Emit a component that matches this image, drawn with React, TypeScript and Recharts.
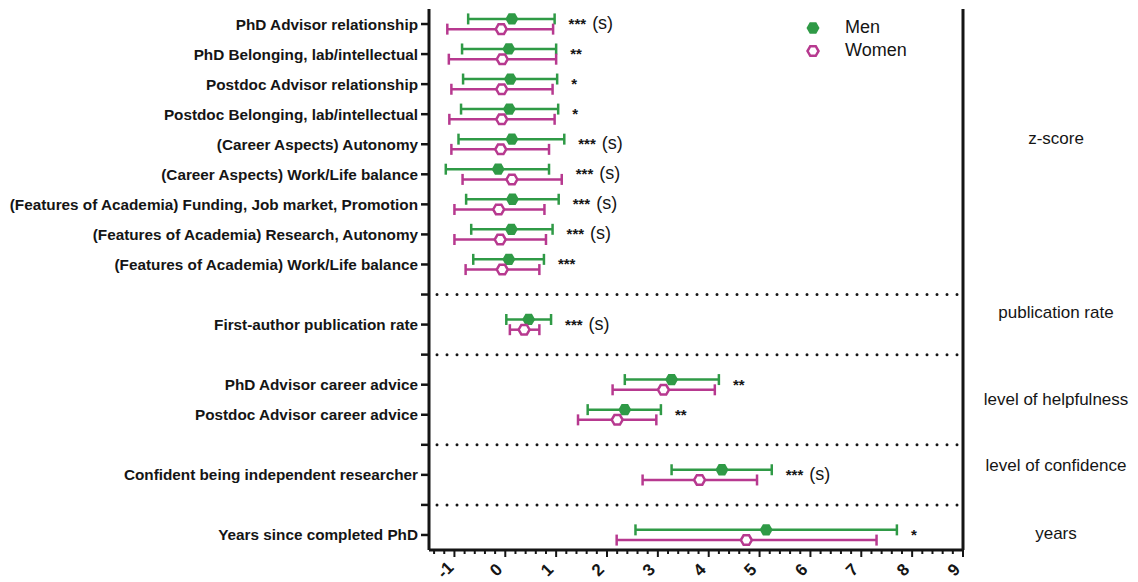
import React from 'react'
import { ScatterChart, Scatter, XAxis, YAxis, ErrorBar, ReferenceLine } from 'recharts'

const FONT = '"Liberation Sans", Arial, sans-serif'
const GREEN = '#2f9a46'
const MAGENTA = '#b7398f'
const INK = '#151515'

// one row per measure; slot = position on the category axis (gaps hold the dotted separators)
const rowLabels = [
  'PhD Advisor relationship',
  'PhD Belonging, lab/intellectual',
  'Postdoc Advisor relationship',
  'Postdoc Belonging, lab/intellectual',
  '(Career Aspects) Autonomy',
  '(Career Aspects) Work/Life balance',
  '(Features of Academia) Funding, Job market, Promotion',
  '(Features of Academia) Research, Autonomy',
  '(Features of Academia) Work/Life balance',
  'First-author publication rate',
  'PhD Advisor career advice',
  'Postdoc Advisor career advice',
  'Confident being independent researcher',
  'Years since completed PhD',
]
const rowSlots = [0, 1, 2, 3, 4, 5, 6, 7, 8, 10, 12, 13, 15, 17]
const separatorSlots = [9, 11, 14, 16]

const menMean = [0.13, 0.07, 0.1, 0.08, 0.13, -0.14, 0.14, 0.12, 0.07, 0.46, 3.27, 2.35, 4.26, 5.13]
const menLow = [-0.73, -0.85, -0.83, -0.87, -0.92, -1.17, -0.77, -0.67, -0.63, 0.02, 2.35, 1.62, 3.27, 2.56]
const menHigh = [0.97, 1.0, 1.02, 1.04, 1.16, 0.86, 1.05, 0.93, 0.76, 0.9, 4.2, 3.06, 5.24, 7.7]

const womenMean = [-0.08, -0.06, -0.07, -0.07, -0.09, 0.13, -0.13, -0.1, -0.06, 0.37, 3.11, 2.2, 3.82, 4.74]
const womenLow = [-1.14, -1.11, -1.06, -1.1, -1.06, -0.84, -1.0, -1.0, -0.78, 0.09, 2.11, 1.43, 2.7, 2.19]
const womenHigh = [0.94, 1.0, 0.93, 0.97, 0.86, 1.11, 0.77, 0.8, 0.67, 0.67, 4.12, 2.97, 4.95, 7.3]

const significance = ['*** (s)', '**', '*', '*', '*** (s)', '*** (s)', '*** (s)', '*** (s)', '***', '*** (s)', '**', '**', '*** (s)', '*']

const groupLabels = ['z-score', 'publication rate', 'level of helpfulness', 'level of confidence', 'years']
const groupSlots = [3.8, 9.6, 12.5, 14.7, 16.95]

const xTicks = [-1, 0, 1, 2, 3, 4, 5, 6, 7, 8, 9]
const xAllTicks: number[] = []
for (let k = -7; k <= 45; k++) xAllTicks.push(k / 5)

const slotTicks: number[] = []
for (let s = 0; s <= 17; s++) slotTicks.push(s)

const PAIR_OFFSET = 0.17

const menData = rowSlots.map((slot, i) => ({
  x: menMean[i],
  y: slot - PAIR_OFFSET,
  err: [menMean[i] - menLow[i], menHigh[i] - menMean[i]],
}))
const womenData = rowSlots.map((slot, i) => ({
  x: womenMean[i],
  y: slot + PAIR_OFFSET,
  err: [womenMean[i] - womenLow[i], womenHigh[i] - womenMean[i]],
}))
const sigData = rowSlots.map((slot, i) => ({
  x: Math.max(menHigh[i], womenHigh[i]),
  y: slot,
  sig: significance[i],
}))

const hex = (cx: number, cy: number, r: number) =>
  [0, 60, 120, 180, 240, 300]
    .map((a) => `${cx + r * Math.cos((a * Math.PI) / 180)},${cy + r * Math.sin((a * Math.PI) / 180)}`)
    .join(' ')

const MenMarker = (p: any) => <polygon points={hex(p.cx, p.cy, 6.5)} fill={GREEN} />
const WomenMarker = (p: any) => (
  <polygon points={hex(p.cx, p.cy, 5.5)} fill="#fff" stroke={MAGENTA} strokeWidth={2.5} />
)

const SigLabel = (p: any) => {
  const [stars, s] = String(p.payload.sig).split(' ')
  return (
    <text x={p.cx + 14} y={p.cy + 5} fontFamily={FONT} fill={INK}>
      <tspan fontSize={15} fontWeight="bold">{stars}</tspan>
      {s && (
        <tspan fontSize={18} dx={6}>
          {s}
        </tspan>
      )}
    </text>
  )
}

const LeftTick = ({ x, y, payload }: any) => {
  const idx = rowSlots.indexOf(payload.value)
  return (
    <g>
      <line x1={x - 8} x2={x} y1={y} y2={y} stroke={INK} strokeWidth={2.5} />
      {idx >= 0 && (
        <text x={x - 11} y={y} textAnchor="end" dominantBaseline="central" fontSize={15.3} fontWeight="bold" fontFamily={FONT} fill={INK}>
          {rowLabels[idx]}
        </text>
      )}
    </g>
  )
}

const RightTick = ({ x, y, payload }: any) => {
  const idx = groupSlots.indexOf(payload.value)
  return (
    <text x={x + 93} y={y} textAnchor="middle" dominantBaseline="central" fontSize={17} fontFamily={FONT} fill={INK}>
      {groupLabels[idx]}
    </text>
  )
}

const BottomTick = ({ x, y, payload }: any) => {
  const v = Math.round(payload.value * 5) / 5
  const major = xTicks.includes(v)
  return (
    <g>
      <line x1={x} x2={x} y1={y} y2={y + (major ? 7 : 4)} stroke={INK} strokeWidth={2} />
      {major && (
        <text
          x={x - 9}
          y={y + 20}
          textAnchor="middle"
          dominantBaseline="central"
          fontSize={17}
          fontWeight="bold"
          fontFamily={FONT}
          fill={INK}
          transform={`rotate(-45 ${x - 9} ${y + 20})`}
        >
          {v}
        </text>
      )}
    </g>
  )
}

const LegendBox = () => (
  <div style={{ position: 'absolute', left: 797, top: 8, fontFamily: FONT, fontSize: 18, color: INK }}>
    {[
      { name: 'Men', icon: <polygon points={hex(8, 8, 6.5)} fill={GREEN} /> },
      { name: 'Women', icon: <polygon points={hex(8, 8, 5.5)} fill="#fff" stroke={MAGENTA} strokeWidth={2.5} /> },
    ].map((item) => (
      <div key={item.name} style={{ display: 'flex', alignItems: 'center', height: 23 }}>
        <svg width={16} height={16}>{item.icon}</svg>
        <span style={{ marginLeft: 24 }}>{item.name}</span>
      </div>
    ))}
  </div>
)

export default function App() {
  return (
    <div style={{ position: 'relative', width: 1130, height: 574 }}>
      <ScatterChart width={1130} height={574} margin={{ top: 1, right: 0, bottom: 0, left: 0 }}>
        <XAxis
          type="number"
          dataKey="x"
          domain={[-1.5, 9]}
          ticks={xAllTicks}
          interval={0}
          allowDataOverflow
          height={32}
          tickSize={0}
          tickMargin={0}
          tickLine={false}
          tick={<BottomTick />}
          axisLine={{ stroke: INK, strokeWidth: 3 }}
        />
        <YAxis
          type="number"
          dataKey="y"
          domain={[-0.5, 17.5]}
          reversed
          ticks={slotTicks}
          interval={0}
          allowDataOverflow
          width={421}
          tickSize={0}
          tickMargin={0}
          tickLine={false}
          tick={<LeftTick />}
          axisLine={{ stroke: INK, strokeWidth: 3 }}
        />
        <YAxis
          yAxisId="right"
          orientation="right"
          type="number"
          domain={[-0.5, 17.5]}
          reversed
          ticks={groupSlots}
          interval={0}
          allowDataOverflow
          width={175}
          tickSize={0}
          tickMargin={0}
          tickLine={false}
          tick={<RightTick />}
          axisLine={{ stroke: INK, strokeWidth: 3 }}
        />
        {separatorSlots.map((s) => (
          <ReferenceLine
            key={s}
            y={s}
            stroke={INK}
            strokeWidth={3}
            strokeLinecap="round"
            strokeDasharray="0 10"
            strokeDashoffset={-8}
          />
        ))}
        <Scatter name="Men" data={menData} shape={<MenMarker />} isAnimationActive={false}>
          <ErrorBar dataKey="err" direction="x" width={5.5} strokeWidth={2.5} stroke={GREEN} />
        </Scatter>
        <Scatter name="Women" data={womenData} shape={<WomenMarker />} isAnimationActive={false}>
          <ErrorBar dataKey="err" direction="x" width={5.5} strokeWidth={2.5} stroke={MAGENTA} />
        </Scatter>
        <Scatter name="sig" data={sigData} shape={<SigLabel />} isAnimationActive={false} />
      </ScatterChart>
      <LegendBox />
    </div>
  )
}
